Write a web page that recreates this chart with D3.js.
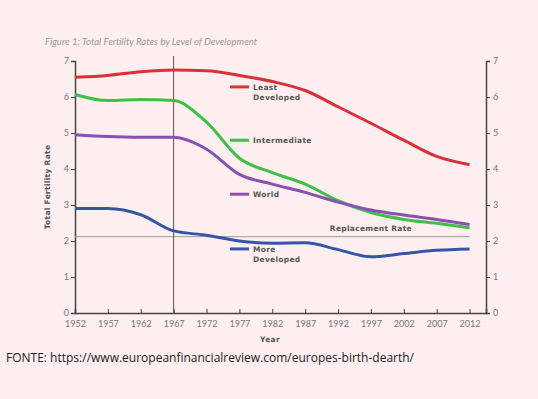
<!DOCTYPE html>
<html>
<head>
  <script src="https://d3js.org/d3.v7.min.js"></script>
  <style>
    body { margin: 0; background: #fdefef; }
    svg { display: block; }
    .tick text { font-family: Lato, sans-serif; font-size: 9px; fill: #777; }
    .lbl { font-family: "DejaVu Sans", sans-serif; font-size: 7.5px; font-weight: bold; fill: #555; letter-spacing: 0.3px; }
  </style>
</head>
<body>
<div id="chart"></div>
<script>
var years = [1952, 1957, 1962, 1967, 1972, 1977, 1982, 1987, 1992, 1997, 2002, 2007, 2012];
var leastDeveloped = [6.55, 6.6, 6.7, 6.75, 6.73, 6.6, 6.43, 6.18, 5.73, 5.27, 4.8, 4.35, 4.12];
var intermediate = [6.07, 5.9, 5.93, 5.9, 5.3, 4.3, 3.9, 3.58, 3.12, 2.79, 2.6, 2.49, 2.37];
var world = [4.95, 4.9, 4.88, 4.88, 4.55, 3.85, 3.58, 3.35, 3.08, 2.86, 2.72, 2.6, 2.46];
var moreDeveloped = [2.9, 2.9, 2.73, 2.28, 2.16, 2.0, 1.94, 1.95, 1.76, 1.56, 1.65, 1.74, 1.78];
var replacementRate = 2.12;
var yTicks = [0, 1, 2, 3, 4, 5, 6, 7];

var series = [
  { name: ["Least", "Developed"], values: leastDeveloped, color: "#d9303a", ly: 6.28 },
  { name: ["Intermediate"], values: intermediate, color: "#3fbf48", ly: 4.8 },
  { name: ["World"], values: world, color: "#8a4fb0", ly: 3.3 },
  { name: ["More", "Developed"], values: moreDeveloped, color: "#3556a8", ly: 1.78 }
];

var width = 538, height = 399;
var svg = d3.select("#chart").append("svg")
  .attr("width", width).attr("height", height);

var x = d3.scaleLinear().domain([1952, 2014.5]).range([75, 486]);
var y = d3.scaleLinear().domain([0, 7]).range([313, 61]);

// title
svg.append("text")
  .attr("x", 45).attr("y", 45)
  .style("font-family", "Lato, sans-serif").style("font-style", "italic")
  .style("font-size", "9.6px").style("fill", "#999")
  .text("Figure 1: Total Fertility Rates by Level of Development");

// axes
var xAxis = svg.append("g").attr("transform", "translate(0," + y(0) + ")")
  .call(d3.axisBottom(x).tickValues(years).tickFormat(d3.format("d")).tickSize(-4).tickPadding(8));
var yLeft = svg.append("g").attr("transform", "translate(" + x.range()[0] + ",0)")
  .call(d3.axisLeft(y).tickValues(yTicks).tickFormat(d3.format("d")).tickSize(4).tickPadding(2));
var yRight = svg.append("g").attr("transform", "translate(" + x.range()[1] + ",0)")
  .call(d3.axisRight(y).tickValues(yTicks).tickFormat(d3.format("d")).tickSize(4).tickPadding(3));
[xAxis, yLeft, yRight].forEach(function(g) {
  g.select(".domain").attr("stroke", "#444").attr("stroke-width", 1.5);
  g.selectAll(".tick line").attr("stroke", "#444");
});

// replacement rate line & 1967 marker
svg.append("line")
  .attr("x1", x(1952)).attr("x2", x(2012))
  .attr("y1", y(replacementRate)).attr("y2", y(replacementRate))
  .attr("stroke", "#999").attr("stroke-width", 1);
svg.append("text").attr("class", "lbl")
  .attr("x", x(1997)).attr("y", y(replacementRate) - 6)
  .attr("text-anchor", "middle").text("Replacement Rate");
svg.append("line")
  .attr("x1", x(1967)).attr("x2", x(1967))
  .attr("y1", 56).attr("y2", y(0))
  .attr("stroke", "#555").attr("stroke-width", 1);

var line = d3.line()
  .x(function(d, i) { return x(years[i]); })
  .y(function(d) { return y(d); })
  .curve(d3.curveMonotoneX);

series.forEach(function(s) {
  svg.append("path")
    .datum(s.values)
    .attr("d", line)
    .attr("fill", "none")
    .attr("stroke", s.color)
    .attr("stroke-width", 3);

  svg.append("line")
    .attr("x1", 230).attr("x2", 249)
    .attr("y1", y(s.ly)).attr("y2", y(s.ly))
    .attr("stroke", s.color).attr("stroke-width", 3);
  s.name.forEach(function(t, j) {
    svg.append("text").attr("class", "lbl")
      .attr("x", 253).attr("y", y(s.ly) + 3 + j * 10)
      .text(t);
  });
});

// axis titles
svg.append("text").attr("class", "lbl")
  .attr("transform", "translate(50," + y(3.5) + ") rotate(-90)")
  .attr("text-anchor", "middle").text("Total Fertility Rate");
svg.append("text").attr("class", "lbl")
  .attr("x", 270).attr("y", 342).attr("text-anchor", "middle").text("Year");

// source
svg.append("text")
  .attr("x", 6).attr("y", 362)
  .style("font-family", "'Open Sans', sans-serif").style("font-size", "12px").style("fill", "#222")
  .text("FONTE: https://www.europeanfinancialreview.com/europes-birth-dearth/");
</script>
</body>
</html>
